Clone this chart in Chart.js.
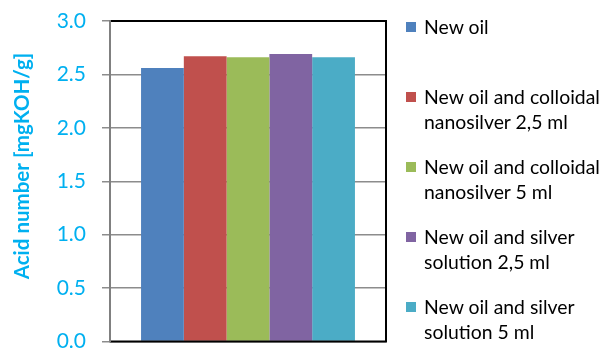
<!DOCTYPE html>
<html>
<head>
<meta charset="utf-8">
<script src="https://cdn.jsdelivr.net/npm/chart.js@4"></script>
<style>
  html, body { margin: 0; padding: 0; background: #fff; }
  #wrap { position: relative; width: 606px; height: 349px; }
  #chart { position: absolute; left: 0; top: 0; }
  #legend { position: absolute; left: 406px; top: 0; width: 200px; font-family: Lato, sans-serif; font-size: 19.4px; color: #000; }
  .item { position: absolute; left: 0; white-space: pre; line-height: 25px; padding-left: 18px; }
  .box { position: absolute; left: 0; top: 8px; width: 10px; height: 10px; }
</style>
</head>
<body>
<div id="wrap">
  <canvas id="chart" width="606" height="349"></canvas>
  <div id="legend"></div>
</div>
<script>
const categories = [''];
const seriesNames = [
    'New oil',
    'New oil and colloidal\nnanosilver 2,5 ml',
    'New oil and colloidal\nnanosilver 5 ml',
    'New oil and silver\nsolution 2,5 ml',
    'New oil and silver\nsolution 5 ml'
];
const seriesValues = [2.56, 2.67, 2.66, 2.69, 2.66];
const seriesColors = ['#4F81BD', '#C0504D', '#9BBB59', '#8064A2', '#4BACC6'];
const yTitle = 'Acid number [mgKOH/g]';

const blue = '#00B0F0';

// black frame on top, right, bottom of the plot area, gray value axis
const frame = {
    id: 'frame',
    afterDatasetsDraw(chart) {
        const { ctx, chartArea: a } = chart;
        ctx.save();
        ctx.strokeStyle = '#000';
        ctx.lineWidth = 2;
        ctx.beginPath();
        ctx.moveTo(a.left, a.top);
        ctx.lineTo(a.right, a.top);
        ctx.lineTo(a.right, a.bottom);
        ctx.lineTo(a.left, a.bottom);
        ctx.stroke();
        ctx.strokeStyle = '#808080';
        ctx.beginPath();
        ctx.moveTo(a.left, a.top - 1);
        ctx.lineTo(a.left, a.bottom + 1);
        ctx.stroke();
        ctx.restore();
    }
};

// y title sits a little above the middle of the axis, as in the original
const yTitlePlugin = {
    id: 'yTitle',
    afterDraw(chart) {
        const { ctx } = chart;
        ctx.save();
        ctx.translate(22, 166);
        ctx.rotate(-Math.PI / 2);
        ctx.font = 'bold 20.5px Lato';
        ctx.fillStyle = blue;
        ctx.textAlign = 'center';
        ctx.textBaseline = 'middle';
        ctx.fillText(yTitle, 0, 0);
        ctx.restore();
    }
};

const ctx = document.getElementById('chart').getContext('2d');
const chart = new Chart(ctx, {
    type: 'bar',
    data: {
        labels: categories,
        datasets: seriesNames.map((name, i) => ({
            label: name,
            data: [seriesValues[i]],
            backgroundColor: seriesColors[i],
            borderWidth: 0
        }))
    },
    options: {
        responsive: false,
        animation: false,
        layout: { padding: { left: 0, right: 220, top: 21, bottom: 7.5 } },
        datasets: { bar: { barPercentage: 1, categoryPercentage: 0.775 } },
        scales: {
            x: { display: false },
            y: {
                min: 0,
                max: 3,
                ticks: {
                    stepSize: 0.5,
                    padding: 16,
                    color: blue,
                    font: { family: 'Lato', size: 21 },
                    callback: v => v.toFixed(1)
                },
                grid: { color: '#8C8C8C', lineWidth: 1.5, tickLength: 8 },
                border: { display: false },
                afterFit: s => {
                    s.width = 110;
                    // labels may hang over the plot edges, like the original
                    s.paddingTop = 0;
                    s.paddingBottom = 0;
                }
            }
        },
        plugins: {
            legend: { display: false },
            tooltip: { enabled: false }
        }
    },
    plugins: [frame, yTitlePlugin]
});

// legend beside the chart
const legend = document.getElementById('legend');
seriesNames.forEach((name, i) => {
    const item = document.createElement('div');
    item.className = 'item';
    item.style.top = (14 + i * 70) + 'px';
    item.innerHTML = `<span class="box" style="background:${seriesColors[i]}"></span>`;
    item.appendChild(document.createTextNode(name));
    legend.appendChild(item);
});
</script>
</body>
</html>
